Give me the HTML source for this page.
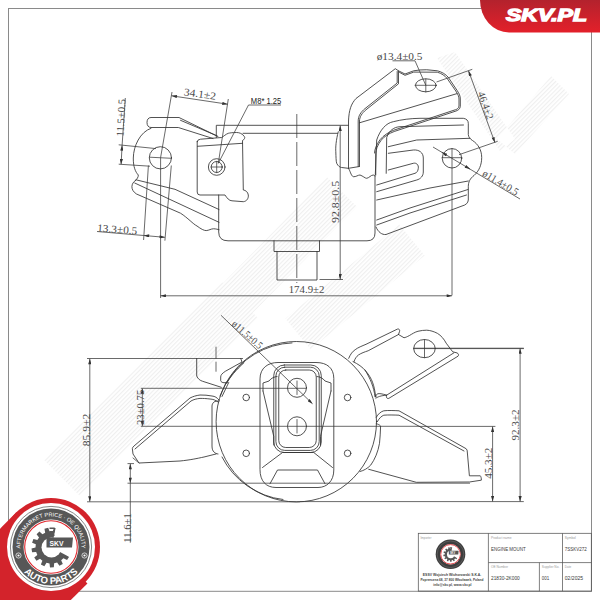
<!DOCTYPE html>
<html><head><meta charset="utf-8">
<style>
html,body{margin:0;padding:0;background:#fff;width:600px;height:600px;overflow:hidden}
svg{display:block}
.l{fill:none;stroke:#333;stroke-width:0.85;stroke-linejoin:round;stroke-linecap:round}
.d{fill:none;stroke:#383838;stroke-width:0.75}
.t{font-family:"Liberation Serif",serif;font-size:10.5px;fill:#4a4a4a}
.s{font-family:"Liberation Sans",sans-serif}
</style></head><body>
<svg width="600" height="600" viewBox="0 0 600 600">
<defs>
<linearGradient id="rg" x1="0" y1="0" x2="0" y2="1">
<stop offset="0" stop-color="#b3222d"/><stop offset="1" stop-color="#e3202a"/>
</linearGradient>
<marker id="ar" viewBox="0 0 10 6" refX="10" refY="3" markerWidth="7" markerHeight="3.2" orient="auto-start-reverse" markerUnits="userSpaceOnUse">
<path d="M0,0 L10,3 L0,6 Z" fill="#333"/>
</marker>
<!--defs-->
</defs>
<rect x="8.5" y="8.5" width="583" height="582.8" fill="none" stroke="#8a8a8a" stroke-width="1"/>
<defs><pattern id="hp" patternUnits="userSpaceOnUse" width="3" height="3" patternTransform="rotate(45)"><rect x="0" y="0" width="1.2" height="3" fill="#efefef"/></pattern></defs>
<path d="M437,58 L455,52 L515,139 L500,151Z M497,139 L515,154 L569,94 L551,76Z M79.7,495.7 L257.7,317.7 L222.3,282.3 L44.3,460.3Z M243.0,322.7 L357.0,206.7 L327.0,177.3 L213.0,293.3Z M310.7,349.4 L424.7,255.4 L399.3,224.6 L285.3,318.6Z M210.0,361.1 L250.0,325.1 L230.0,302.9 L190.0,338.9Z" fill="url(#hp)"/>
<g id="top" class="l">
<!-- left lip top -->
<path d="M218,136.5 L179,117.5 L151,117.5 C148,117.5 147,120 147,122.5 C147,125.5 148.5,127.5 151,127.5 L178.3,127.5 L213,138.5"/>
<path d="M180.5,120.3 L217,135.8"/>
<!-- left bulge -->
<path d="M151,128.3 C140,132 133.5,146 133.3,158 C133.2,167 135.5,172 138.3,175 C138.5,177 137,179 135.5,180.5"/>
<!-- lower lip -->
<path d="M136,179.8 L175,189.3 L219,209.5"/>
<path d="M134.7,183 L219,222.3"/>
<path d="M135.5,180.5 C131,183 130,190 136.5,194 L180.5,213.2 C188,218 193,224 197,226 C201,229 204,230.6 206.2,230.6 C209,230.4 211,228.8 213.5,228.75 C216,228.8 218,229.5 219,229.7"/>
<!-- hole left -->
<circle cx="160.4" cy="157.8" r="11.1"/>
<path d="M149.5,157.2 L171.5,158.3" class="d"/>
<!-- M8 block -->
<path d="M197.2,141.7 L197.2,192 Q197.2,195 200,195 L225,195 C227,198 229,200.8 232,200.8 L243.3,201.7 C247,201.3 248.7,198 248.3,195 C248,192 245.5,190.2 243.3,190 L242.5,140.5 C244.5,139.5 245.3,137.5 244.3,136.5 C242.5,133.5 239,132.5 236.7,132.5 C232,132.5 229.5,133 228.3,133.3 C226,134 223.5,136.5 221.7,137.5 L200.5,139.2 Q197.2,139.5 197.2,141.7 Z"/>
<path d="M197.5,146.3 L242.5,143.3"/>
<circle cx="216.7" cy="167" r="8.3"/>
<circle cx="216.7" cy="167" r="5.5"/>
<path d="M211,167 H222.4 M216.7,161.3 V172.7" class="d"/>
<!-- top plate -->
<path d="M216.3,137.5 V125.3 H348.3"/>
<path d="M243,133.3 H337.5"/>
<!-- body -->
<path d="M218.7,195 V232 Q218.7,240.8 228,240.8 H367 Q375,240.8 375,233 V176"/>
<path d="M338.3,131.7 C336,140 335.5,148 335.8,151.7 C336,157 336,161 336.7,163.3 C338,166 340,167.5 341.7,167.5 L348.3,168.3 C350,170 351,176 353.3,176.7 C356,177 358,175 360,175 C363,176 365,178.3 366.7,178.3 C369,178 371,175 373.3,175 L375,176"/>
<!-- hatch lines -->
<!-- stub -->
<path d="M274,240.8 V251.5 H319.5 V240.8 M277,251.5 V280 H317 V251.5"/>
<!-- right arm L piece -->
<path d="M348.5,168.3 V121 C349,110 351,104 356,98.5 L395.3,68.7 L398.5,70.8 L398.5,83.8 L366,109.8 C362,113 359.5,117 359.5,121 V166.2"/>
<path d="M397.2,71.5 V83 L365,108.6 C360.8,112 358.2,116 358.2,121 V166.5"/>
<path d="M348.5,168.3 L359.5,166.5"/>
<!-- plate with oval hole -->
<path d="M398.5,70.8 L405,74 L413.7,70.8 C418,70 422,69.7 426.7,69.75 L437.5,70.8 C442,72 446,74.5 448.3,77.3 L457,90.3 C459.5,94 460.3,96 460.3,99 L460.3,106.5 C460,109 458,110.5 456,111 L394.2,131.5 C389,133.5 384,136.5 381.2,140.2 C377.5,145 375.8,150 375.75,153.2 V175"/>
<path d="M399.5,72.4 L405,75.3 L413.7,72.1 L437.3,72.2 C441.5,73.3 445,75.8 447.2,78.5 L455.8,91 C458,94.5 459,96.5 459,99 V106 C458.8,108 457.5,109.2 455.5,109.7 L393.8,130.2 C388.5,132.2 383.5,135.5 380.2,139.5 C376.5,144.5 374.5,149.5 374.5,153"/>
<path d="M359.5,122.8 L457,93.6"/>
<ellipse cx="425.8" cy="85.3" rx="10.3" ry="6.5"/>
<path d="M415,85.3 H436.5 M425.8,79 V92" class="d"/>
<!-- cup -->
<path d="M375.3,175 L376.7,140 C380,130 386,123 393.3,121.7 C402,119.5 410,118.5 420,118.3 L463.3,118.3 C466.5,118.8 468.3,120.5 468.3,123.3 V134.5 C468.5,137 470,139 472.5,140.5 C478,144 481.7,150 481.7,157.5 C481.7,165 479,171 474,175.5 C470,178.5 468.3,182 468.3,186.7 V200 C468,203 466,205 462,206 L386,234.5 C382,235 378,232 376,227"/>
<path d="M386.2,173.3 L386.7,137.5 C389,130.5 394,127 400,126.7 L463.5,125"/>
<path d="M388.3,146.7 L416.7,140 L470,138.3"/>
<!-- U slot -->
<path d="M388.3,153.3 L413.3,150 C419,149.5 423.3,152.5 423.3,158 V172 C423.3,176 420.5,179 416.7,180 L376.7,191.7"/>
<path d="M388.3,170 L413.3,163.3 C416.5,162.5 418.8,165 418.3,168.3 C418,171 416.8,172.8 415,173.3 L376.7,185"/>
<!-- lower cup lines -->
<path d="M376.7,200 L430,188 L468.3,181"/>
<path d="M376.7,220 L410,208 L468,189.5"/>
<path d="M376.7,225 L410,213 L466.5,195"/>
<!-- hole right -->
<circle cx="452" cy="158.3" r="9.7"/>
<path d="M452,148.5 V295 M442,157.7 H462" class="d"/>
</g>

<g id="bot" class="l">
<!-- big circle -->
<circle cx="296.3" cy="421.7" r="80.2"/>
<path d="M227,382 A78.8,78.8 0 0 1 292,342.9"/>
<path d="M222,457 A78.8,78.8 0 0 0 283,499.5"/>
<!-- boss -->
<path d="M260,378.5 C260,368 268,362.5 278,362.5 H316 C327,362.5 333.8,368 333.8,378.5 V470 C333.8,481 327,487.5 318,487.5 H276 C266,487.5 260,481 260,470 Z"/>
<!-- shield -->
<path d="M263,391 V383 L269,381 C271,378 275,376.5 277,376.5 M263,391 L273.75,436.3 V445 M331,391 V383 L325,381 C323,378 319,376.5 317,376.5 M331,391 L320.5,436.3 V445"/>
<path d="M262.5,467.5 L282.5,452.5 H313.75 L332.5,467.5"/>
<path d="M270,483.75 L277.5,470 H317.5 L325,483.75"/>
<!-- slot -->
<rect x="273.75" y="365" width="47.5" height="87.5" rx="10.5"/>
<rect x="275.9" y="367.2" width="43.3" height="83.2" rx="8.8"/>
<rect x="278.75" y="370" width="37.5" height="77.5" rx="7"/>
<circle cx="297" cy="387.8" r="9.5"/>
<circle cx="297" cy="426.3" r="9.5"/>
<path d="M297,381 V394.5 M297,419.5 V433" class="d"/>
<!-- small holes -->
<circle cx="246.2" cy="397.5" r="3.3"/>
<circle cx="347.6" cy="397.5" r="3.3"/>
<circle cx="246.2" cy="453.3" r="3.3"/>
<circle cx="347.6" cy="453.3" r="3.3"/>
<!-- top-left tab -->
<path d="M196.7,358.4 V376 C198,379 200,380.5 202.7,381.3 L221.3,387.3"/>
<path d="M240.7,358.4 L242,362 L225.3,371.3 C222,373.5 220.7,375 220.7,377 V380.7 C221,382 222.5,382.7 224,382.7 H227.3"/>
<path d="M244,362.7 C236,370 230,377 226.7,383.3"/>
<path d="M226.5,382 L220,396 M228.7,382.5 L222,396.5"/>
<!-- left arm -->
<path d="M219,400 C217,397.5 215,396.3 212,396 C208,395.2 204,395 200,395 C196,395.5 193,396.5 190,398 L134,446 C132.5,447.3 132.2,448.5 132.4,449 L133,454 L139,463 L180,461 C190,460 197,458.5 204,457 C208,456 212,455 216,454"/>
<path d="M218,402 C215.5,400 213,399.2 210,399 C206,398.5 203,398.4 200,398.4 C196.5,398.8 193.5,399.5 191,401 L135,449"/>
<path d="M219,401 C217,401 215,401.2 214,402 C212.8,403 212,404.5 212,406 V446 C212,449 212.8,451 214,452 C215,453 216.5,454 218,454"/>
<path d="M133,458 L139,463" class="d"/>
<!-- right arm upper -->
<path d="M348.7,358.3 C350.5,354 352.5,351.5 355.2,349.7 C358,347.5 362,346 366,344.3 L397.4,329.1 C399,328.5 400,330 399.6,331.3 L398.5,334.5"/>
<path d="M354,361.6 C355,358.5 356.5,356.5 358.4,355 C361.5,353 364.5,352 368.2,350.75 L398.5,334.5"/>
<path d="M398.5,334.5 L404,337.75 C405.5,337.5 407,336.8 409.3,335.6 C412,334 415,332 418,331.25 C421,330.5 424,330.2 426.7,330.2 C430,330.3 434,331.5 437.5,333.4 C441,335.5 444,339 446.2,343.2 L452.7,351.8 L457,352.9 C458.5,353.5 459,355 458,356.2 L388.75,398.4 C387,399 386,397.5 386.6,395.2 L453.8,352.9"/>
<path d="M353,361.6 C358,364 362.5,367 366,371.3 C369,375 371.2,378.5 372.5,382.2 C374,386 375,391 375.75,397.3 C376,394 377,392 386.6,395.2"/>
<ellipse cx="424.5" cy="348.6" rx="10.8" ry="9.1"/>
<path d="M413.5,348.6 H523.5" class="d"/>
<path d="M424.5,339.5 V357.7" class="d"/>
<!-- right arm lower -->
<path d="M376.25,417.3 C378,414 381,411.5 383.8,410.8 C388,410.3 394,410.5 399,410.8 L466.2,448.75 C467,449.5 467.4,450.7 467.3,452 L469.4,475.8 L480.3,475.8 C481,476.5 481.5,478.5 481.3,480.2 L469.4,482 L416.3,482.3 L368.7,469.3"/>
<path d="M377.3,421.7 C379,418.5 381.5,416 383.8,415.2 C388,414.8 394,415 399,415.2 L464,451"/>
<path d="M376.25,423.8 C378,424 379.5,424.8 380.6,426 C380.5,432 380,438 379.5,443.3 C378,452 375,459 370.8,465 C367.5,468.5 364,470.5 360,471.5"/>
<path d="M365,370 C370,378 374,387 375,396.7"/>
<path d="M375.8,398.3 C377,397 381,395.5 386.6,395.2"/>
</g>

<g id="dim">
<path d="M118.70,144.80 L156.00,148.60" class="d" />
<path d="M118.70,164.20 L150.00,166.20" class="d" />
<path d="M125.30,98.00 L122.10,145.30" class="d" />
<path d="M122.10,145.30 L121.10,164.30" class="d" marker-start="url(#ar)" marker-end="url(#ar)"/>
<text class="t" font-size="10.3" text-anchor="middle" transform="translate(124.54,117.91) rotate(-86.50)" textLength="37.6" lengthAdjust="spacingAndGlyphs">11.5±0.5</text>
<path d="M172.00,92.00 L160.60,157.50" class="d" />
<path d="M228.30,99.00 L218.30,163.30" class="d" />
<path d="M171.60,95.80 L227.60,104.20" class="d" marker-start="url(#ar)" marker-end="url(#ar)"/>
<text class="t" font-size="10.3" text-anchor="middle" transform="translate(199.51,97.47) rotate(8.00)" textLength="32.3" lengthAdjust="spacingAndGlyphs">34.1±2</text>
<path d="M281.00,105.00 L248.50,105.00 L218.30,163.30" class="d" />
<text class="s" font-size="9.3" x="250.8" y="104" fill="#222" textLength="30.5" lengthAdjust="spacingAndGlyphs">M8* 1.25</text>
<path d="M148.40,165.50 L143.60,240.00" class="d" />
<path d="M171.30,165.50 L164.90,240.70" class="d" />
<path d="M97.00,231.50 L143.80,235.50" class="d" />
<path d="M143.80,235.50 L164.90,237.30" class="d" marker-start="url(#ar)" marker-end="url(#ar)"/>
<text class="t" font-size="10.3" text-anchor="middle" transform="translate(116.97,232.89) rotate(4.60)" textLength="40.1" lengthAdjust="spacingAndGlyphs">13.3±0.5</text>
<path d="M319.50,279.50 L343.00,279.50" class="d" />
<path d="M340.20,125.60 L340.20,279.40" class="d" marker-start="url(#ar)" marker-end="url(#ar)"/>
<text class="t" font-size="10.3" text-anchor="middle" transform="translate(339.15,201.90) rotate(-90.00)" textLength="42.2" lengthAdjust="spacingAndGlyphs">92.8±0.5</text>
<path d="M160.60,157.50 L160.60,298.00" class="d" />
<path d="M160.60,295.80 L452.00,295.80" class="d" marker-start="url(#ar)" marker-end="url(#ar)"/>
<text class="t" font-size="10.3" text-anchor="middle" transform="translate(306.55,293.30) rotate(0.00)" textLength="35.7" lengthAdjust="spacingAndGlyphs">174.9±2</text>
<path d="M296.8,114 V283" class="d" stroke-dasharray="24,4"/>
<text class="t" font-size="9.4" x="376.7" y="59.6" textLength="45.8" lengthAdjust="spacingAndGlyphs">ø13.4±0.5</text>
<path d="M392.50,60.80 L415.00,60.80 L425.80,85.30" class="d" />
<path d="M436.50,82.00 L472.30,69.30" class="d" />
<path d="M459.00,154.70 L497.70,141.30" class="d" />
<path d="M468.50,70.80 L494.90,142.50" class="d" marker-start="url(#ar)" marker-end="url(#ar)"/>
<text class="t" font-size="10.3" text-anchor="middle" transform="translate(482.41,106.54) rotate(70.20)" textLength="28.6" lengthAdjust="spacingAndGlyphs">46.4±2</text>
<path d="M433.00,147.00 L520.00,199.00" class="d" />
<path d="M441.80,152.30 L446.80,155.30" class="d" marker-start="url(#ar)"/>
<path d="M466.50,167.00 L470.00,169.10" class="d" marker-end="url(#ar)"/>
<text class="t" font-size="10.3" text-anchor="middle" transform="translate(498.80,185.50) rotate(31.00)" textLength="39.9" lengthAdjust="spacingAndGlyphs">ø11.4±0.5</text>
<path d="M87.00,358.50 L243.00,358.50" class="d" />
<path d="M87.00,501.80 L300.00,501.80" class="d" />
<path d="M89.80,358.80 L89.80,501.60" class="d" marker-start="url(#ar)" marker-end="url(#ar)"/>
<text class="t" font-size="10.3" text-anchor="middle" transform="translate(89.55,430.05) rotate(-90.00)" textLength="32.5" lengthAdjust="spacingAndGlyphs">85.9±2</text>
<path d="M140.80,388.30 L306.50,388.30" class="d" />
<path d="M140.80,426.30 L420.00,426.30" class="d" />
<path d="M142.30,388.50 L142.30,426.10" class="d" marker-start="url(#ar)" marker-end="url(#ar)"/>
<text class="t" font-size="10.3" text-anchor="middle" transform="translate(143.90,407.35) rotate(-90.00)" textLength="35.3" lengthAdjust="spacingAndGlyphs">23±0.75</text>
<path d="M127.50,463.60 L134.00,463.60" class="d" />
<path d="M127.50,483.20 L470.00,483.20" class="d" />
<path d="M130.30,463.80 L130.30,483.00" class="d" marker-start="url(#ar)" marker-end="url(#ar)"/>
<path d="M130.30,483.00 L130.30,542.70" class="d" />
<text class="t" font-size="10.3" text-anchor="middle" transform="translate(130.70,528.00) rotate(-90.00)" textLength="29.4" lengthAdjust="spacingAndGlyphs">11.6±1</text>
<path d="M413.50,348.20 L523.80,348.20" class="d" />
<path d="M300.00,501.60 L523.80,501.60" class="d" />
<path d="M520.10,348.50 L520.10,501.40" class="d" marker-start="url(#ar)" marker-end="url(#ar)"/>
<text class="t" font-size="10.3" text-anchor="middle" transform="translate(518.80,425.00) rotate(-90.00)" textLength="31.2" lengthAdjust="spacingAndGlyphs">92.3±2</text>
<path d="M420.00,426.40 L495.40,426.40" class="d" />
<path d="M492.60,426.60 L492.60,501.40" class="d" marker-start="url(#ar)" marker-end="url(#ar)"/>
<text class="t" font-size="10.3" text-anchor="middle" transform="translate(492.30,463.25) rotate(-90.00)" textLength="31.1" lengthAdjust="spacingAndGlyphs">45.3±2</text>
<path d="M221.00,315.30 L312.50,403.75" class="d"  marker-end="url(#ar)"/>
<text class="t" font-size="10.3" text-anchor="middle" transform="translate(245.04,337.33) rotate(41.20)" textLength="37.3" lengthAdjust="spacingAndGlyphs">ø11.5±0.5</text>
<path d="M216.00,346.70 L216.00,371.70" class="d" stroke-dasharray="12,3"/>
</g>
<rect x="418.3" y="533.3" width="173" height="57.8" stroke="#555" stroke-width="0.75" fill="none"/>
<path d="M488.4,533.3 V591.1 M562.5,533.3 V591.1 M539.4,562.6 V591.1 M488.4,562.6 H591.3" stroke="#555" stroke-width="0.75" fill="none"/>
<text x="420.5" y="539.3" class="s" font-size="3.6" fill="#9a9a9a" textLength="11.0" lengthAdjust="spacingAndGlyphs">Importer</text>
<text x="491.0" y="539.3" class="s" font-size="3.6" fill="#9a9a9a" textLength="20.5" lengthAdjust="spacingAndGlyphs">Product name</text>
<text x="564.8" y="539.3" class="s" font-size="3.6" fill="#9a9a9a" textLength="11.0" lengthAdjust="spacingAndGlyphs">Symbol</text>
<text x="491.0" y="568.2" class="s" font-size="3.6" fill="#9a9a9a" textLength="17.0" lengthAdjust="spacingAndGlyphs">OE Number</text>
<text x="541.8" y="568.2" class="s" font-size="3.6" fill="#9a9a9a" textLength="17.5" lengthAdjust="spacingAndGlyphs">Supplier No.</text>
<text x="564.8" y="568.2" class="s" font-size="3.6" fill="#9a9a9a" textLength="6.5" lengthAdjust="spacingAndGlyphs">Date</text>
<text x="491.0" y="551.2" class="s" font-size="5.9" fill="#3a3a3a" textLength="34.7" lengthAdjust="spacingAndGlyphs">ENGINE MOUNT</text>
<text x="564.8" y="551.2" class="s" font-size="5.9" fill="#3a3a3a" textLength="22.0" lengthAdjust="spacingAndGlyphs">7SSKV272</text>
<text x="491.0" y="579.8" class="s" font-size="5.9" fill="#3a3a3a" textLength="28.8" lengthAdjust="spacingAndGlyphs">21830-2K000</text>
<text x="541.8" y="579.8" class="s" font-size="5.9" fill="#3a3a3a" textLength="7.4" lengthAdjust="spacingAndGlyphs">001</text>
<text x="564.8" y="579.8" class="s" font-size="5.9" fill="#3a3a3a" textLength="18.3" lengthAdjust="spacingAndGlyphs">02/2025</text>
<text x="422.8" y="576.2" class="s" font-size="3.9" font-weight="bold" fill="#444" textLength="58.5" lengthAdjust="spacingAndGlyphs">ESSV Wojciech Wichorowski S.K.A.</text>
<text x="420.5" y="581" class="s" font-size="3.9" font-weight="bold" fill="#444" textLength="63" lengthAdjust="spacingAndGlyphs">Poprzeczna 68, 37 800 Włocławek, Poland</text>
<text x="433.3" y="585.9" class="s" font-size="3.9" font-weight="bold" fill="#444" textLength="38.2" lengthAdjust="spacingAndGlyphs">info@skv.pl, www.skv.pl</text>
<g transform="translate(450.50,554.30) scale(0.37) translate(-51,-547)">
<circle cx="51" cy="547" r="40" fill="#3d3d3d"/>
<circle cx="51" cy="547" r="36" fill="none" stroke="#888" stroke-width="1"/>
<circle cx="51" cy="547" r="27.5" fill="#fff"/>
<circle cx="51" cy="547" r="26.3" fill="none" stroke="#e0262c" stroke-width="2.2"/>
<path d="M67.48,546.78 L71.50,547.57 L71.11,551.41 L67.02,551.38 L65.99,554.29 L69.18,556.85 L67.05,560.08 L63.44,558.15 L61.17,560.25 L62.81,564.00 L59.43,565.86 L57.12,562.48 L54.14,563.28 L53.84,567.36 L49.98,567.44 L49.52,563.38 L46.50,562.70 L44.35,566.18 L40.89,564.45 L42.37,560.64 L40.01,558.64 L36.49,560.71 L34.23,557.58 L37.31,554.89 L36.15,552.02 L32.07,552.22 L31.52,548.40 L35.50,547.45 L35.81,544.37 L32.10,542.65 L33.39,539.01 L37.36,540.02 L39.06,537.44 L36.57,534.19 L39.41,531.57 L42.45,534.30 L45.16,532.81 L44.47,528.78 L48.20,527.77 L49.62,531.61 L52.71,531.55 L53.98,527.65 L57.74,528.50 L57.22,532.56 L59.99,533.94 L62.92,531.08 L65.86,533.58 L63.51,536.93 L65.32,539.43 L69.24,538.26 L70.68,541.85 L67.05,543.72 Z" fill="#575757"/>
<path d="M51.50,547.50 L56.49,524.02 A24,24 0 0 1 72.69,558.77 Z" fill="#fff"/>
<circle cx="51.50" cy="547.50" r="10" fill="#fff"/>
<path d="M49.50,527.50 h5 v1.6 h-5z M49.50,531.00 h5 v1.6 h-5z M49.50,534.50 h5 v1.6 h-5z" fill="#575757"/>
<path d="M46.50,537.50 H73.00 L72.00,547.50 H46.50 Z" fill="#575757"/>
<text x="49.50" y="545.80" class="s" font-size="7.4" font-weight="bold" fill="#fff" textLength="14" lengthAdjust="spacingAndGlyphs">SKV</text>
</g>
<path d="M480,0 A29,32.5 0 0 0 509,32.5 H600 V0 Z" fill="url(#rg)"/>
<text x="506" y="20.7" class="s" font-weight="bold" font-style="italic" font-size="16.5" fill="#fff" stroke="#fff" stroke-width="1.3" textLength="81" lengthAdjust="spacingAndGlyphs">SKV.PL</text>
<g id="logo">
<circle cx="51" cy="547" r="49" fill="#d3232b"/>
<path d="M16.35,512.35 L87.42,583.42 L-18.65,689.48 L-89.71,618.42 Z" fill="#d3232b"/>
<circle cx="51" cy="547" r="44" fill="#fff"/>
<circle cx="51" cy="547" r="40.6" fill="none" stroke="#666" stroke-width="0.8"/>
<circle cx="51" cy="547" r="33" fill="none" stroke="#575757" stroke-width="11"/>
<circle cx="51" cy="547" r="26.3" fill="none" stroke="#e0262c" stroke-width="1.1"/>
<path d="M67.48,546.78 L71.50,547.57 L71.11,551.41 L67.02,551.38 L65.99,554.29 L69.18,556.85 L67.05,560.08 L63.44,558.15 L61.17,560.25 L62.81,564.00 L59.43,565.86 L57.12,562.48 L54.14,563.28 L53.84,567.36 L49.98,567.44 L49.52,563.38 L46.50,562.70 L44.35,566.18 L40.89,564.45 L42.37,560.64 L40.01,558.64 L36.49,560.71 L34.23,557.58 L37.31,554.89 L36.15,552.02 L32.07,552.22 L31.52,548.40 L35.50,547.45 L35.81,544.37 L32.10,542.65 L33.39,539.01 L37.36,540.02 L39.06,537.44 L36.57,534.19 L39.41,531.57 L42.45,534.30 L45.16,532.81 L44.47,528.78 L48.20,527.77 L49.62,531.61 L52.71,531.55 L53.98,527.65 L57.74,528.50 L57.22,532.56 L59.99,533.94 L62.92,531.08 L65.86,533.58 L63.51,536.93 L65.32,539.43 L69.24,538.26 L70.68,541.85 L67.05,543.72 Z" fill="#575757"/>
<path d="M51.50,547.50 L56.49,524.02 A24,24 0 0 1 72.69,558.77 Z" fill="#fff"/>
<circle cx="51.50" cy="547.50" r="10" fill="#fff"/>
<path d="M49.50,527.50 h5 v1.6 h-5z M49.50,531.00 h5 v1.6 h-5z M49.50,534.50 h5 v1.6 h-5z" fill="#575757"/>
<path d="M46.50,537.50 H73.00 L72.00,547.50 H46.50 Z" fill="#575757"/>
<text x="49.50" y="545.80" class="s" font-size="7.4" font-weight="bold" fill="#fff" textLength="14" lengthAdjust="spacingAndGlyphs">SKV</text>
<path id="arcT" d="M20.40,547.00 A30.6,30.6 0 0 1 81.60,547.00" fill="none"/>
<text class="s" font-size="5.6" fill="#fff" text-anchor="middle"><textPath href="#arcT" startOffset="50%">AFTERMARKET PRICE · OE QUALITY</textPath></text>
<path id="arcB" d="M14.00,547.00 A37.0,37.0 0 0 0 88.00,547.00" fill="none"/>
<text class="s" font-size="9.5" font-weight="bold" fill="#fff" text-anchor="middle"><textPath href="#arcB" startOffset="50%">AUTO PARTS</textPath></text>
<circle cx="18.5" cy="555.5" r="2.6" fill="none" stroke="#fff" stroke-width="0.7"/><circle cx="18.5" cy="555.5" r="1.1" fill="#fff"/>
<circle cx="84.5" cy="555.5" r="2.6" fill="none" stroke="#fff" stroke-width="0.7"/><circle cx="84.5" cy="555.5" r="1.1" fill="#fff"/>
</g>
</svg>
</body></html>
